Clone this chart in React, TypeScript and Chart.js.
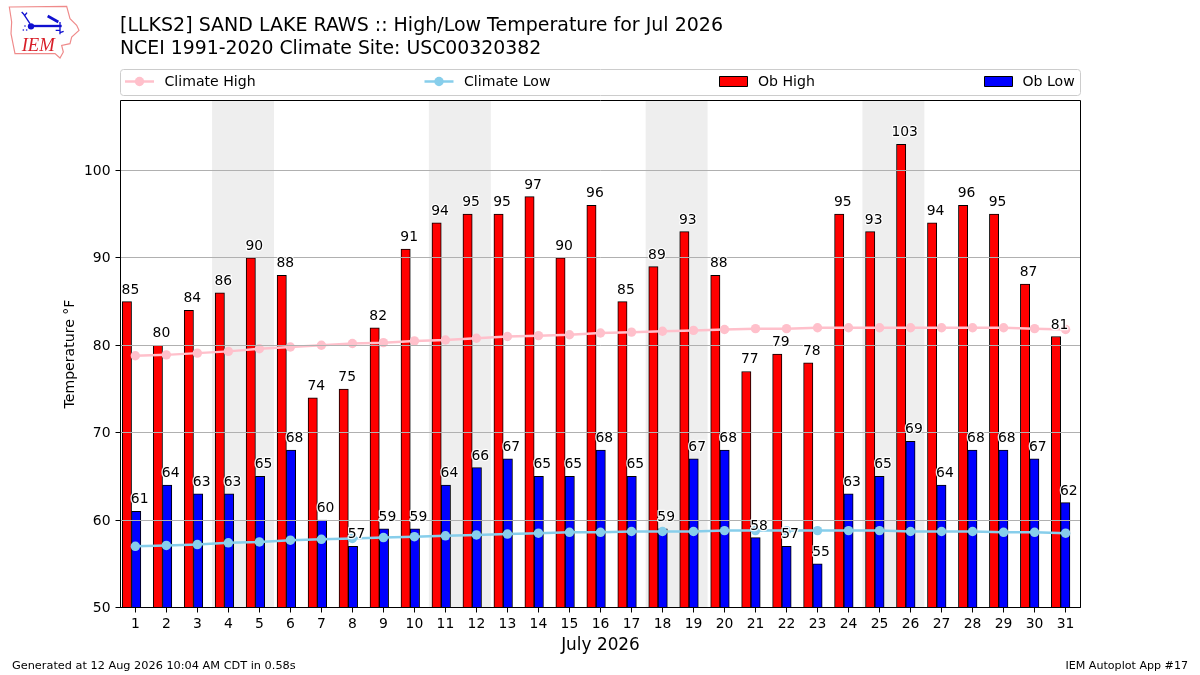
import { useEffect, useRef } from "react";
import { Chart, registerables } from "chart.js";

Chart.register(...registerables);

const titleLines = [
  "[LLKS2] SAND LAKE RAWS :: High/Low Temperature for Jul 2026",
  "NCEI 1991-2020 Climate Site: USC00320382",
];
const footerLeft = "Generated at 12 Aug 2026 10:04 AM CDT in 0.58s";
const footerRight = "IEM Autoplot App #17";

const days = [
  1, 2, 3, 4, 5, 6, 7, 8, 9, 10, 11, 12, 13, 14, 15, 16, 17, 18, 19, 20, 21, 22,
  23, 24, 25, 26, 27, 28, 29, 30, 31,
];
const obHigh = [
  85, 80, 84, 86, 90, 88, 74, 75, 82, 91, 94, 95, 95, 97, 90, 96, 85, 89, 93,
  88, 77, 79, 78, 95, 93, 103, 94, 96, 95, 87, 81,
];
const obLow = [
  61, 64, 63, 63, 65, 68, 60, 57, 59, 59, 64, 66, 67, 65, 65, 68, 65, 59, 67,
  68, 58, 57, 55, 63, 65, 69, 64, 68, 68, 67, 62,
];
const climateHigh = [
  78.8, 78.9, 79.1, 79.3, 79.6, 79.8, 80.0, 80.2, 80.3, 80.5, 80.6, 80.8, 81.0,
  81.1, 81.2, 81.4, 81.5, 81.6, 81.7, 81.8, 81.9, 81.9, 82.0, 82.0, 82.0, 82.0,
  82.0, 82.0, 82.0, 81.9, 81.8,
];
const climateLow = [
  57.0, 57.1, 57.2, 57.4, 57.5, 57.7, 57.8, 57.9, 58.0, 58.1, 58.2, 58.3, 58.4,
  58.5, 58.6, 58.6, 58.7, 58.7, 58.7, 58.8, 58.8, 58.8, 58.8, 58.8, 58.8, 58.7,
  58.7, 58.7, 58.6, 58.6, 58.5,
];
const weekendStarts = [4, 11, 18, 25];

const FONT = '"DejaVu Sans"';
const HIGH_OFFSET = -0.25;
const LOW_OFFSET = 0.05;

const chromePlugin = {
  id: "chrome",
  beforeDatasetsDraw(chart: any) {
    const { ctx, chartArea, scales } = chart;
    ctx.save();
    ctx.fillStyle = "#eeeeee";
    weekendStarts.forEach((d) => {
      const x0 = scales.xBars.getPixelForValue(d - 0.5);
      const x1 = scales.xBars.getPixelForValue(d + 1.5);
      ctx.fillRect(x0, chartArea.top, x1 - x0, chartArea.height);
    });
    ctx.restore();
  },
  afterDraw(chart: any) {
    const { ctx, chartArea, scales } = chart;
    ctx.save();

    // value labels with a white halo
    ctx.font = `13.9px ${FONT}`;
    ctx.textAlign = "center";
    ctx.textBaseline = "alphabetic";
    ctx.lineJoin = "round";
    const label = (day: number, value: number, offset: number) => {
      const x = scales.xBars.getPixelForValue(day + offset) + 3.5;
      const y = scales.y.getPixelForValue(value) - 8;
      ctx.strokeStyle = "rgba(255,255,255,0.9)";
      ctx.lineWidth = 2.5;
      ctx.strokeText(String(value), x, y);
      ctx.fillStyle = "#000";
      ctx.fillText(String(value), x, y);
    };
    days.forEach((d, i) => {
      label(d, obHigh[i], HIGH_OFFSET);
      label(d, obLow[i], LOW_OFFSET);
    });

    // frame
    ctx.strokeStyle = "#000";
    ctx.lineWidth = 1;
    ctx.strokeRect(
      chartArea.left,
      chartArea.top,
      chartArea.width,
      chartArea.height,
    );

    // title
    ctx.textAlign = "left";
    ctx.fillStyle = "#000";
    ctx.font = `19px ${FONT}`;
    ctx.fillText(titleLines[0], 120, 31);
    ctx.font = `18.85px ${FONT}`;
    ctx.fillText(titleLines[1], 120, 54);

    // legend
    ctx.beginPath();
    ctx.roundRect(120.5, 69.5, 960, 26, 3);
    ctx.fillStyle = "#fff";
    ctx.fill();
    ctx.strokeStyle = "#cccccc";
    ctx.stroke();

    const lineKey = (x: number, color: string) => {
      ctx.strokeStyle = color;
      ctx.lineWidth = 2.5;
      ctx.beginPath();
      ctx.moveTo(x, 81.5);
      ctx.lineTo(x + 29, 81.5);
      ctx.stroke();
      ctx.fillStyle = color;
      ctx.beginPath();
      ctx.arc(x + 14.5, 81.5, 4.7, 0, Math.PI * 2);
      ctx.fill();
    };
    const barKey = (x: number, color: string) => {
      ctx.fillStyle = color;
      ctx.fillRect(x, 76.5, 28, 10);
      ctx.strokeStyle = "#000";
      ctx.lineWidth = 1;
      ctx.strokeRect(x, 76.5, 28, 10);
    };
    lineKey(125, "#ffc0cb");
    lineKey(424.5, "#87ceeb");
    barKey(719.5, "#ff0000");
    barKey(984.5, "#0000ff");
    ctx.fillStyle = "#000";
    ctx.font = `14.1px ${FONT}`;
    ctx.textBaseline = "middle";
    ctx.fillText("Climate High", 164.5, 82.5);
    ctx.fillText("Climate Low", 464, 82.5);
    ctx.fillText("Ob High", 758, 82.5);
    ctx.fillText("Ob Low", 1022.5, 82.5);

    // footer
    ctx.textBaseline = "alphabetic";
    ctx.font = `11.3px ${FONT}`;
    ctx.fillText(footerLeft, 12, 669);
    ctx.textAlign = "right";
    ctx.font = `11.1px ${FONT}`;
    ctx.fillText(footerRight, 1188, 669);
    ctx.restore();
  },
};

function IemLogo() {
  return (
    <svg
      width={80}
      height={60}
      viewBox="0 0 240 180"
      style={{ position: "absolute", left: 5, top: 2 }}
    >
      <path
        d="M13 15 L185 13 L195 50 L215 70 L222 85 L200 105 L195 125 L170 130 L175 150 L165 168 L150 155 L30 155 L25 130 L18 95 L20 60 Z"
        fill="#fff"
        stroke="#ef8a8a"
        strokeWidth={3.5}
      />
      <g stroke="#1010d0" fill="none" strokeWidth={4}>
        <path d="M75 65 L55 35 M55 35 L50 30 M58 42 L66 32" />
        <path d="M75 72 L170 72" strokeWidth={7} />
        <path d="M128 42 L160 60" strokeWidth={8} />
        <path d="M165 60 L165 97 M165 85 L152 85 M165 92 L176 88" />
      </g>
      <circle cx={78} cy={73} r={9.5} fill="#1010d0" />
      <circle cx={60} cy={72} r={2.5} fill="#1010d0" />
      <circle cx={55} cy={84} r={2.5} fill="#1010d0" />
      <circle cx={65} cy={84} r={2.5} fill="#1010d0" />
      <text
        x={50}
        y={147}
        fill="#d81e28"
        fontFamily='"Liberation Serif"'
        fontStyle="italic"
        fontSize={56}
      >
        IEM
      </text>
    </svg>
  );
}

function App() {
  const chartRef = useRef<HTMLCanvasElement | null>(null);

  useEffect(() => {
    if (!chartRef.current) return;
    document.body.style.margin = "0";

    const chart = new Chart(chartRef.current, {
      type: "bar",
      plugins: [chromePlugin],
      data: {
        datasets: [
          {
            type: "line",
            label: "Climate High",
            data: days.map((d, i) => ({ x: d, y: climateHigh[i] })),
            borderColor: "#ffc0cb",
            backgroundColor: "#ffc0cb",
            borderWidth: 2.5,
            pointRadius: 4.7,
            pointBorderWidth: 0,
            tension: 0,
            order: 1,
          },
          {
            type: "line",
            label: "Climate Low",
            data: days.map((d, i) => ({ x: d, y: climateLow[i] })),
            borderColor: "#87ceeb",
            backgroundColor: "#87ceeb",
            borderWidth: 2.5,
            pointRadius: 4.7,
            pointBorderWidth: 0,
            tension: 0,
            order: 0,
          },
          {
            label: "Ob High",
            xAxisID: "xBars",
            data: days.map((d, i) => ({ x: d + HIGH_OFFSET, y: obHigh[i] })),
            backgroundColor: "#ff0000",
            borderColor: "#000",
            borderWidth: 1,
            barThickness: 9.3,
            grouped: false,
            order: 3,
          },
          {
            label: "Ob Low",
            xAxisID: "xBars",
            data: days.map((d, i) => ({ x: d + LOW_OFFSET, y: obLow[i] })),
            backgroundColor: "#0000ff",
            borderColor: "#000",
            borderWidth: 1,
            barThickness: 9.3,
            grouped: false,
            order: 2,
          },
        ],
      },
      options: {
        responsive: false,
        animation: false,
        layout: {
          padding: { left: 50.5, right: 119.5, top: 100.5, bottom: 7.5 },
        },
        plugins: {
          legend: { display: false },
          title: { display: false },
          tooltip: { enabled: false },
        },
        scales: {
          x: {
            type: "linear",
            min: 0.522,
            max: 31.48,
            bounds: "data",
            offset: false,
            afterBuildTicks: (scale: any) => {
              scale.ticks = days.map((d) => ({ value: d }));
            },
            afterFit: (scale: any) => {
              scale.height = 60;
            },
            grid: {
              offset: false,
              color: "rgba(0,0,0,0)",
              tickColor: "#000",
              tickWidth: 1,
              tickLength: 5,
            },
            border: { color: "#000" },
            ticks: {
              autoSkip: false,
              maxRotation: 0,
              padding: 3.5,
              color: "#000",
              font: { family: FONT, size: 13.9 },
              callback: (v: any) => String(v),
            },
            title: {
              display: true,
              text: "July 2026",
              color: "#000",
              font: { family: FONT, size: 16.9 },
              padding: { top: 0, bottom: 12 },
            },
          },
          // the bars sit on a very slightly tighter day spacing than the ticks
          xBars: {
            type: "linear",
            display: false,
            position: "bottom",
            min: 0.543,
            max: 31.541,
            bounds: "data",
            offset: false,
          },
          y: {
            min: 50,
            max: 108,
            afterFit: (scale: any) => {
              scale.width = 70;
            },
            grid: {
              color: "#b0b0b0",
              tickColor: "#000",
              tickLength: 5,
              z: 1,
            },
            border: { display: false },
            ticks: {
              stepSize: 10,
              includeBounds: false,
              padding: 5,
              labelOffset: 1,
              color: "#000",
              font: { family: FONT, size: 13.9 },
            },
            title: {
              display: true,
              text: "Temperature °F",
              color: "#000",
              font: { family: FONT, size: 14.1 },
              padding: { top: 11, bottom: 0 },
            },
          },
        },
      },
    } as any);

    return () => {
      chart.destroy();
    };
  }, []);

  return (
    <div style={{ position: "relative", width: 1200, height: 675 }}>
      <canvas
        ref={chartRef}
        width={1200}
        height={675}
        style={{ display: "block", width: 1200, height: 675 }}
      />
      <IemLogo />
    </div>
  );
}

export default App;
